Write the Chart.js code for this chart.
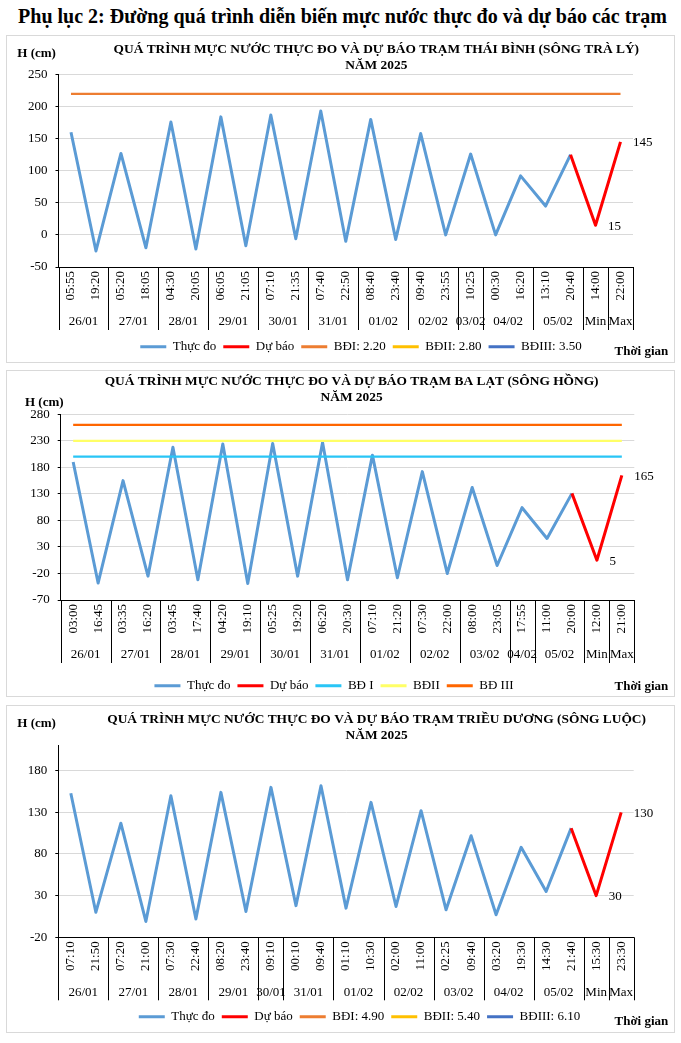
<!DOCTYPE html>
<html lang="vi">
<head>
<meta charset="utf-8">
<title>Phụ lục 2</title>
<script src="https://cdn.jsdelivr.net/npm/chart.js@4.4.1/dist/chart.umd.min.js"></script>
<style>
  html, body { margin: 0; padding: 0; background: #fff; }
  body { width: 681px; height: 1043px; position: relative; overflow: hidden; font-family: 'Liberation Serif', 'Times New Roman', serif; }
  .tieu-de { position: absolute; left: 2px; width: 681px; top: 3px; text-align: center; font-weight: bold; font-size: 20px; line-height: 26px; white-space: nowrap; }
  .khung { position: absolute; left: 6px; width: 667px; border: 1px solid #d9d9d9; background: #fff; }
  .khung canvas { display: block; }
</style>
</head>
<body>
<div class="tieu-de">Phụ lục 2: Đường quá trình diễn biến mực nước thực đo và dự báo các trạm</div>
<div class="khung" style="top:35px;height:326px"><canvas id="bdThaiBinh"></canvas></div>
<div class="khung" style="top:370px;height:325px"><canvas id="bdBaLat"></canvas></div>
<div class="khung" style="top:705px;height:326px"><canvas id="bdTrieuDuong"></canvas></div>

<script>
// Trạm Thái Bình (sông Trà Lý)
const nhanGioTB = ['05:55', '19:20', '05:20', '18:05', '04:30', '20:05', '06:05', '21:05', '07:10', '21:35', '07:40', '22:50',
    '08:40', '23:40', '09:40', '23:55', '10:25', '00:30', '16:20', '13:10', '20:40', '14:00', '22:00'];
const ngayTB = ['26/01', '27/01', '28/01', '29/01', '30/01', '31/01', '01/02', '02/02', '03/02', '04/02', '05/02', 'Min', 'Max'];
const soMocTB = [2, 2, 2, 2, 2, 2, 2, 2, 1, 2, 2, 1, 1];
const thucDoTB = [160, -25, 127, -20, 176, -22, 184, -17, 187, -6, 193, -10, 180, -7, 158, 0, 126, 0, 92, 45, 125];
const duBaoTB = [15, 145];
const baoDongTB = [220, 280, 350];
const tenBaoDongTB = ['BĐI: 2.20', 'BĐII: 2.80', 'BĐIII: 3.50'];
const trucYTB = [-50, 250, 50];

// Trạm Ba Lạt (sông Hồng)
const nhanGioBL = ['03:00', '16:45', '03:35', '16:20', '03:45', '17:40', '04:20', '19:10', '05:25', '19:20', '06:20', '20:30',
    '07:10', '21:20', '07:30', '22:00', '08:00', '23:05', '17:55', '11:00', '20:00', '12:00', '21:00'];
const ngayBL = ['26/01', '27/01', '28/01', '29/01', '30/01', '31/01', '01/02', '02/02', '03/02', '04/02', '05/02', 'Min', 'Max'];
const soMocBL = [2, 2, 2, 2, 2, 2, 2, 2, 2, 1, 2, 1, 1];
const thucDoBL = [190, -38, 155, -25, 218, -32, 224, -39, 225, -25, 227, -32, 203, -28, 172, -20, 142, -5, 104, 46, 131];
const duBaoBL = [5, 165];
const baoDongBL = [200, 230, 260];
const tenBaoDongBL = ['BĐ I', 'BĐII', 'BĐ III'];
const trucYBL = [-70, 280, 50];

// Trạm Triều Dương (sông Luộc)
const nhanGioTD = ['07:10', '21:50', '07:20', '21:00', '07:30', '22:40', '08:20', '23:40', '09:10', '00:10', '09:40', '01:10',
    '10:30', '02:00', '11:00', '02:25', '09:40', '03:20', '19:30', '14:30', '21:40', '15:30', '23:30'];
const ngayTD = ['26/01', '27/01', '28/01', '29/01', '30/01', '31/01', '01/02', '02/02', '03/02', '04/02', '05/02', 'Min', 'Max'];
const soMocTD = [2, 2, 2, 2, 1, 2, 2, 2, 2, 2, 2, 1, 1];
const thucDoTD = [153, 10, 117, -1, 150, 2, 154, 11, 160, 18, 162, 15, 142, 17, 132, 13, 102, 7, 88, 35, 111];
const duBaoTD = [30, 130];
const baoDongTD = [490, 540, 610];
const tenBaoDongTD = ['BĐI: 4.90', 'BĐII: 5.40', 'BĐIII: 6.10'];
const trucYTD = [-20, 210, 50];

const mauThucDo = '#5B9BD5';
const mauDuBao = '#FF0000';
const mauBaoDong1 = ['#ED7D31', '#FFC000', '#4472C4'];
const mauBaoDong2 = ['#29C5F6', '#FFFF66', '#FF6600'];

Chart.defaults.font.family = "'Liberation Serif', 'Times New Roman', serif";
Chart.defaults.font.size = 13;
Chart.defaults.color = '#000';

// Plugin vẽ phần trục ngày, chữ phụ và nhãn số dự báo
const trangTri = {
    id: 'trangTri',
    afterLayout(chart, args, o) {
        const lg = chart.legend;
        const dx = o.chuGiai[0] - (lg.left + lg.right) / 2;
        const dy = o.chuGiai[1] - (lg.top + lg.options.labels.padding + 6.5);
        lg.left += dx; lg.right += dx; lg.top += dy; lg.bottom += dy;
        const tb = chart.titleBlock;
        const tx = o.tieuDeX - (tb.left + tb.right) / 2;
        tb.left += tx; tb.right += tx;
    },
    afterDraw(chart, args, o) {
        const { ctx, chartArea: ca } = chart;
        const x = chart.scales.x;
        const nua = (x.getPixelForValue(1) - x.getPixelForValue(0)) / 2;
        ctx.save();
        ctx.strokeStyle = '#000';
        ctx.lineWidth = 1;
        ctx.fillStyle = '#000';
        const vach = (px) => {
            const xx = Math.round(px) + 0.5;
            ctx.beginPath();
            ctx.moveTo(xx, ca.bottom);
            ctx.lineTo(xx, ca.bottom + o.caoTruc);
            ctx.stroke();
        };
        ctx.font = "13px 'Liberation Serif'";
        ctx.textAlign = 'center';
        ctx.textBaseline = 'middle';
        vach(ca.left);
        let dau = 0;
        o.ngay.forEach((ngay, k) => {
            const cuoi = dau + o.soMoc[k] - 1;
            const trai = x.getPixelForValue(dau) - nua;
            const phai = x.getPixelForValue(cuoi) + nua;
            ctx.fillText(ngay, (trai + phai) / 2, ca.bottom + o.dongNgay);
            vach(phai);
            dau = cuoi + 1;
        });

        // nhãn giá trị Min, Max của đường dự báo
        const meta = chart.getDatasetMeta(1);
        const soLieu = chart.data.datasets[1].data;
        ctx.textAlign = 'left';
        for (let i = soLieu.length - o.soNhan; i < soLieu.length; i++) {
            const diem = meta.data[i];
            ctx.fillText(String(soLieu[i]), diem.x + 12.5, diem.y + 1);
        }

        ctx.font = "bold 13px 'Liberation Serif'";
        ctx.fillText('H (cm)', o.chuH[0], o.chuH[1]);
        ctx.textAlign = 'right';
        ctx.fillText('Thời gian', o.thoiGian[0], o.thoiGian[1]);
        ctx.restore();
    }
};

function taoDuLieu(nhanGio, thucDo, duBao, baoDong, tenBaoDong, mauBaoDong) {
    const n = nhanGio.length;
    const soThucDo = thucDo.concat(duBao.map(() => null));
    const soDuBao = thucDo.map((v, i) => (i === thucDo.length - 1 ? v : null)).concat(duBao);
    const dsBaoDong = baoDong.map((muc, k) => ({
        label: tenBaoDong[k],
        data: [{ x: nhanGio[0], y: muc }, { x: nhanGio[n - 1], y: muc }],
        borderColor: mauBaoDong[k],
        backgroundColor: mauBaoDong[k],
        borderWidth: 2.25,
        order: 1
    }));
    return {
        labels: nhanGio,
        datasets: [
            { label: 'Thực đo', data: soThucDo, borderColor: mauThucDo, backgroundColor: mauThucDo, borderWidth: 3, order: 3 },
            { label: 'Dự báo', data: soDuBao, borderColor: mauDuBao, backgroundColor: mauDuBao, borderWidth: 3, order: 2 }
        ].concat(dsBaoDong)
    };
}

function veBieuDo(id, tieuDe, duLieu, trucY, ch) {
    return new Chart(document.getElementById(id).getContext('2d'), {
        type: 'line',
        data: duLieu,
        plugins: [trangTri],
        options: {
            responsive: true,
            maintainAspectRatio: false,
            animation: false,
            events: [],
            layout: { padding: { left: 0, top: 0, right: ch.phaiTrong, bottom: ch.duoiTrong } },
            elements: {
                line: { tension: 0, borderJoinStyle: 'round', borderCapStyle: 'butt', fill: false },
                point: { radius: 0, hoverRadius: 0 }
            },
            scales: {
                x: {
                    offset: true,
                    grid: { display: false, drawTicks: false },
                    border: { display: true, color: '#000', width: 1 },
                    ticks: { autoSkip: false, minRotation: 90, maxRotation: 90, padding: 4, font: { size: 13 } },
                    afterFit: (s) => { s.height = 63; }
                },
                y: {
                    min: trucY[0],
                    max: trucY[1],
                    grid: { color: '#D9D9D9', lineWidth: 1, drawTicks: true, tickLength: 3, tickColor: '#000' },
                    border: { display: true, color: '#000', width: 1 },
                    ticks: { stepSize: trucY[2], padding: 8, font: { size: 13 } },
                    // vạch chia bắt đầu từ giá trị nhỏ nhất của trục, bước đều
                    afterBuildTicks: (s) => {
                        const vach = [];
                        for (let v = trucY[0]; v <= trucY[1]; v += trucY[2]) vach.push({ value: v });
                        s.ticks = vach;
                    },
                    afterFit: (s) => { s.width = ch.rongTrucY; }
                }
            },
            plugins: {
                title: {
                    display: true,
                    text: tieuDe,
                    font: { size: 13.4, weight: 'bold', lineHeight: ch.dongTieuDe / 13.4 },
                    color: '#000',
                    padding: ch.dem
                },
                legend: {
                    display: true,
                    position: 'bottom',
                    labels: {
                        boxWidth: 26,
                        boxHeight: 3,
                        padding: 7,
                        font: { size: 13 },
                        generateLabels: (c) => c.data.datasets.map((ds, i) => ({
                            text: ds.label,
                            fillStyle: ds.borderColor,
                            strokeStyle: ds.borderColor,
                            lineWidth: 0,
                            hidden: false,
                            datasetIndex: i
                        }))
                    }
                },
                tooltip: { enabled: false },
                trangTri: {
                    ngay: ch.ngay,
                    soMoc: ch.soMoc,
                    soNhan: ch.soNhan,
                    caoTruc: 63,
                    dongNgay: 55,
                    chuGiai: ch.chuGiai,
                    tieuDeX: ch.tieuDeX,
                    chuH: ch.chuH,
                    thoiGian: [661.3, 315.7]
                }
            }
        }
    });
}

const bdThaiBinh = veBieuDo('bdThaiBinh',
    ['QUÁ TRÌNH MỰC NƯỚC THỰC ĐO VÀ DỰ BÁO TRẠM THÁI BÌNH (SÔNG TRÀ LÝ)', 'NĂM 2025'],
    taoDuLieu(nhanGioTB, thucDoTB, duBaoTB, baoDongTB, tenBaoDongTB, mauBaoDong1), trucYTB,
    { ngay: ngayTB, soMoc: soMocTB, soNhan: duBaoTB.length, phaiTrong: 41, duoiTrong: 2, rongTrucY: 51.5,
      dongTieuDe: 15.5, dem: { top: 6.25, bottom: 1.25 }, chuGiai: [354, 310.7], tieuDeX: 369.3, chuH: [10.3, 18] });

const bdBaLat = veBieuDo('bdBaLat',
    ['QUÁ TRÌNH MỰC NƯỚC THỰC ĐO VÀ DỰ BÁO TRẠM BA LẠT (SÔNG HỒNG)', 'NĂM 2025'],
    taoDuLieu(nhanGioBL, thucDoBL, duBaoBL, baoDongBL, tenBaoDongBL, mauBaoDong2), trucYBL,
    { ngay: ngayBL, soMoc: soMocBL, soNhan: duBaoBL.length, phaiTrong: 39.7, duoiTrong: 3, rongTrucY: 53.7,
      dongTieuDe: 15.6, dem: { top: 2.9, bottom: 9.2 }, chuGiai: [327, 314.7], tieuDeX: 344.6, chuH: [18, 31.3] });

const bdTrieuDuong = veBieuDo('bdTrieuDuong',
    ['QUÁ TRÌNH MỰC NƯỚC THỰC ĐO VÀ DỰ BÁO TRẠM TRIỀU DƯƠNG (SÔNG LUỘC)', 'NĂM 2025'],
    taoDuLieu(nhanGioTD, thucDoTD, duBaoTD, baoDongTD, tenBaoDongTD, mauBaoDong1), trucYTD,
    { ngay: ngayTD, soMoc: soMocTD, soNhan: duBaoTD.length, phaiTrong: 40.3, duoiTrong: 1.7, rongTrucY: 51.3,
      dongTieuDe: 15.5, dem: { top: 6.25, bottom: 2.45 }, chuGiai: [352.5, 310.7], tieuDeX: 369.6, chuH: [10.3, 17.3] });
</script>
</body>
</html>
